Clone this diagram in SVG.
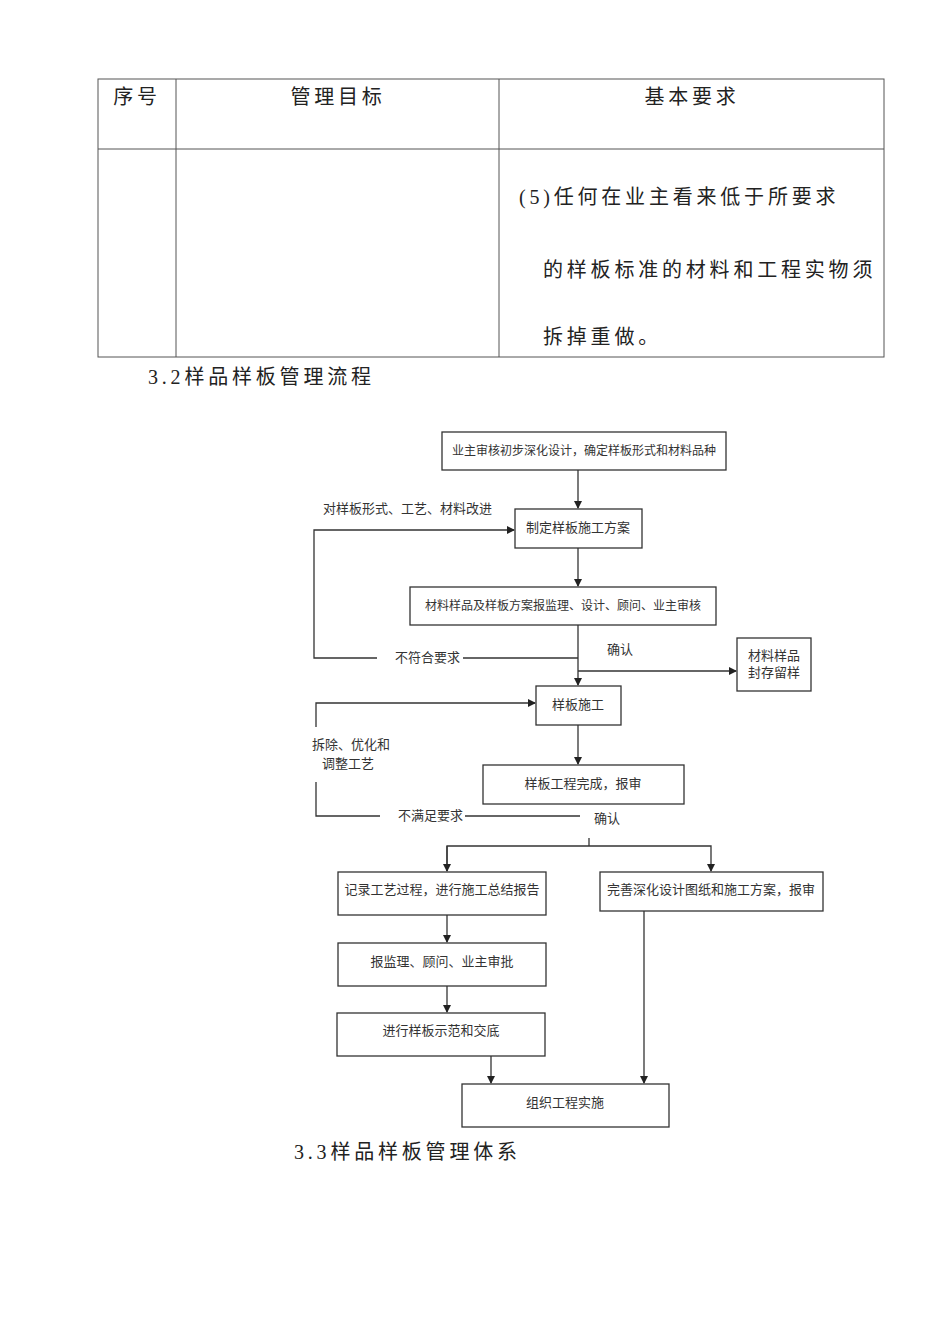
<svg xmlns="http://www.w3.org/2000/svg" width="950" height="1344" viewBox="0 0 950 1344">
<style>
.t{font-family:"Liberation Serif","Noto Sans CJK SC",serif;fill:#222}
.big{font-size:20px;letter-spacing:3.8px}
.s{font-size:13px;font-family:"Noto Sans CJK SC",sans-serif;fill:#333}
.sm{font-size:12px}
.bx{fill:#fff;stroke:#333;stroke-width:1.3}
.ln{fill:none;stroke:#333;stroke-width:1.3}
.tb{fill:none;stroke:#555;stroke-width:1}
</style>
<defs><marker id="a" markerWidth="8" markerHeight="8" refX="7" refY="4" orient="auto" markerUnits="userSpaceOnUse"><path d="M0,0L8,4L0,8z" fill="#222"/></marker></defs>
<rect width="950" height="1344" fill="#fff"/>
<g id="table">
<rect class="tb" x="98" y="79" width="786" height="278"/>
<line class="tb" x1="98" y1="149" x2="884" y2="149"/>
<line class="tb" x1="176" y1="79" x2="176" y2="357"/>
<line class="tb" x1="499" y1="79" x2="499" y2="357"/>
<text class="t big" x="137" y="104" text-anchor="middle">序号</text>
<text class="t big" x="338" y="104" text-anchor="middle">管理目标</text>
<text class="t big" x="692" y="104" text-anchor="middle">基本要求</text>
<text class="t big" x="519" y="204">(5)任何在业主看来低于所要求</text>
<text class="t big" x="543" y="277">的样板标准的材料和工程实物须</text>
<text class="t big" x="543" y="344">拆掉重做。</text>
</g>
<text class="t big" x="148" y="384">3.2样品样板管理流程</text>
<text class="t big" x="294" y="1159">3.3样品样板管理体系</text>
<g id="connectors">
<line class="ln" x1="578" y1="470" x2="578" y2="508" marker-end="url(#a)"/>
<line class="ln" x1="578" y1="548" x2="578" y2="586" marker-end="url(#a)"/>
<line class="ln" x1="578" y1="625" x2="578" y2="685" marker-end="url(#a)"/>
<polyline class="ln" points="377,658 314,658 314,530 514,530" marker-end="url(#a)"/>
<line class="ln" x1="463" y1="658" x2="578" y2="658"/>
<line class="ln" x1="578" y1="671" x2="736" y2="671" marker-end="url(#a)"/>
<line class="ln" x1="578" y1="725" x2="578" y2="764" marker-end="url(#a)"/>
<polyline class="ln" points="316,727 316,703 535,703" marker-end="url(#a)"/>
<polyline class="ln" points="316,782 316,816 380,816"/>
<line class="ln" x1="465" y1="816" x2="580" y2="816"/>
<line class="ln" x1="589" y1="838" x2="589" y2="846" stroke-width="0.8"/>
<polyline class="ln" points="447,871 447,846 711,846 711,871" marker-end="url(#a)"/>
<line class="ln" x1="447" y1="846" x2="447" y2="871" marker-end="url(#a)"/>
<line class="ln" x1="447" y1="915" x2="447" y2="942" marker-end="url(#a)"/>
<line class="ln" x1="447" y1="986" x2="447" y2="1012" marker-end="url(#a)"/>
<line class="ln" x1="491" y1="1056" x2="491" y2="1083" marker-end="url(#a)"/>
<line class="ln" x1="644" y1="911" x2="644" y2="1083" marker-end="url(#a)" stroke-width="1.8"/>
<text class="s" x="323" y="513">对样板形式、工艺、材料改进</text>
<text class="s" x="395" y="662">不符合要求</text>
<text class="s" x="607" y="654">确认</text>
<text class="s" x="312" y="749">拆除、优化和</text>
<text class="s" x="322" y="768">调整工艺</text>
<text class="s" x="398" y="820">不满足要求</text>
<text class="s" x="594" y="823">确认</text>
</g>
<g id="n1"><rect class="bx" x="442" y="432" width="284" height="38"/><text class="s sm" x="584" y="455" text-anchor="middle">业主审核初步深化设计，确定样板形式和材料品种</text></g>
<g id="n2"><rect class="bx" x="515" y="509" width="127" height="39"/><text class="s" x="578" y="532" text-anchor="middle">制定样板施工方案</text></g>
<g id="n3"><rect class="bx" x="410" y="587" width="306" height="38"/><text class="s sm" x="563" y="610" text-anchor="middle">材料样品及样板方案报监理、设计、顾问、业主审核</text></g>
<g id="n4"><rect class="bx" x="737" y="638" width="74" height="53"/><text class="s" x="774" y="660" text-anchor="middle">材料样品</text><text class="s" x="774" y="677" text-anchor="middle">封存留样</text></g>
<g id="n5"><rect class="bx" x="536" y="686" width="85" height="39"/><text class="s" x="578" y="709" text-anchor="middle">样板施工</text></g>
<g id="n6"><rect class="bx" x="483" y="765" width="201" height="39"/><text class="s" x="583" y="788" text-anchor="middle">样板工程完成，报审</text></g>
<g id="n7"><rect class="bx" x="338" y="872" width="208" height="43"/><text class="s" x="442" y="894" text-anchor="middle">记录工艺过程，进行施工总结报告</text></g>
<g id="n8"><rect class="bx" x="600" y="872" width="223" height="39"/><text class="s" x="711" y="894" text-anchor="middle">完善深化设计图纸和施工方案，报审</text></g>
<g id="n9"><rect class="bx" x="338" y="943" width="208" height="43"/><text class="s" x="442" y="966" text-anchor="middle">报监理、顾问、业主审批</text></g>
<g id="n10"><rect class="bx" x="337" y="1013" width="208" height="43"/><text class="s" x="441" y="1035" text-anchor="middle">进行样板示范和交底</text></g>
<g id="n11"><rect class="bx" x="462" y="1084" width="207" height="43"/><text class="s" x="565" y="1107" text-anchor="middle">组织工程实施</text></g>
</svg>
